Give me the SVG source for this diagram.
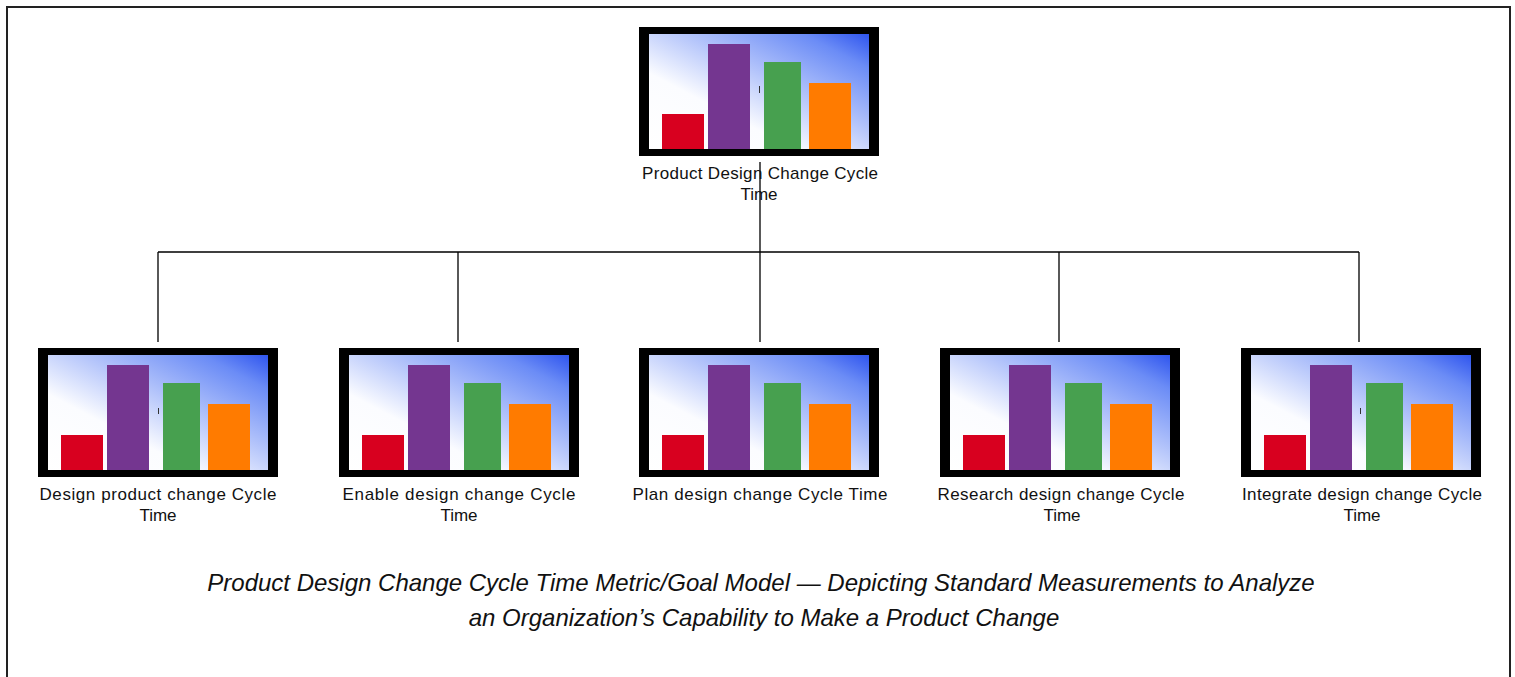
<svg xmlns="http://www.w3.org/2000/svg" xmlns:xlink="http://www.w3.org/1999/xlink" width="1515" height="677" viewBox="0 0 1515 677">
<style>
.lbl{font-family:"Liberation Sans",Arial,sans-serif;font-size:17px;fill:#111;text-anchor:middle}
.cap{font-family:"Liberation Sans",Arial,sans-serif;font-size:24px;font-style:italic;fill:#111;text-anchor:middle}
.conn{stroke:#000;stroke-width:1.3;fill:none}
.tick{stroke:#333;stroke-width:1}
</style>
<defs>
<linearGradient id="bg" x1="0" y1="1" x2="1" y2="0">
<stop offset="0" stop-color="#ffffff"/>
<stop offset="0.33" stop-color="#fbfcff"/>
<stop offset="0.62" stop-color="#a9bcfa"/>
<stop offset="0.85" stop-color="#6b8cf6"/>
<stop offset="1" stop-color="#2f55ee"/>
</linearGradient>
<g id="chart">
<rect x="0" y="0" width="240" height="129" fill="#000"/>
<rect x="10" y="7" width="220" height="115" fill="url(#bg)"/>
<rect x="23" y="87" width="42" height="35" fill="#d8001f"/>
<rect x="69" y="17" width="42" height="105" fill="#743690"/>
<rect x="125" y="35" width="37" height="87" fill="#47a04f"/>
<rect x="170" y="56" width="42" height="66" fill="#ff7b00"/>
</g>
</defs>
<rect x="7" y="7" width="1503" height="700" fill="#fff" stroke="#222" stroke-width="2"/>
<g id="connectors">
<path class="conn" d="M760 162V252M158 252H1359M158 252V342M458 252V342M760 252V342M1059 252V342M1359 252V342"/>
</g>
<g id="node-top">
<use xlink:href="#chart" x="639" y="27"/>
<line class="tick" x1="759.5" y1="86" x2="759.5" y2="93"/>
<text class="lbl" x="760" y="179" textLength="236" lengthAdjust="spacing">Product Design Change Cycle</text>
<text class="lbl" x="759" y="200">Time</text>
</g>
<g id="node-design">
<use xlink:href="#chart" x="38" y="348"/>
<line class="tick" x1="158.5" y1="408" x2="158.5" y2="414"/>
<text class="lbl" x="158" y="500" textLength="237" lengthAdjust="spacing">Design product change  Cycle</text>
<text class="lbl" x="158" y="521">Time</text>
</g>
<g id="node-enable">
<use xlink:href="#chart" x="339" y="348"/>
<text class="lbl" x="459" y="500" textLength="233" lengthAdjust="spacing">Enable design change  Cycle</text>
<text class="lbl" x="459" y="521">Time</text>
</g>
<g id="node-plan">
<use xlink:href="#chart" x="639" y="348"/>
<text class="lbl" x="760" y="500" textLength="255" lengthAdjust="spacing">Plan design change Cycle Time</text>
</g>
<g id="node-research">
<use xlink:href="#chart" x="940" y="348"/>
<text class="lbl" x="1061" y="500" textLength="247" lengthAdjust="spacing">Research design change  Cycle</text>
<text class="lbl" x="1062" y="521">Time</text>
</g>
<g id="node-integrate">
<use xlink:href="#chart" x="1241" y="348"/>
<line class="tick" x1="1360.5" y1="408" x2="1360.5" y2="414"/>
<text class="lbl" x="1362" y="500" textLength="240" lengthAdjust="spacing">Integrate design change Cycle</text>
<text class="lbl" x="1362" y="521">Time</text>
</g>
<g id="caption">
<text class="cap" x="761" y="591">Product Design Change Cycle Time Metric/Goal Model — Depicting Standard Measurements to Analyze</text>
<text class="cap" x="764" y="626">an Organization’s Capability to Make a Product Change</text>
</g>
</svg>
